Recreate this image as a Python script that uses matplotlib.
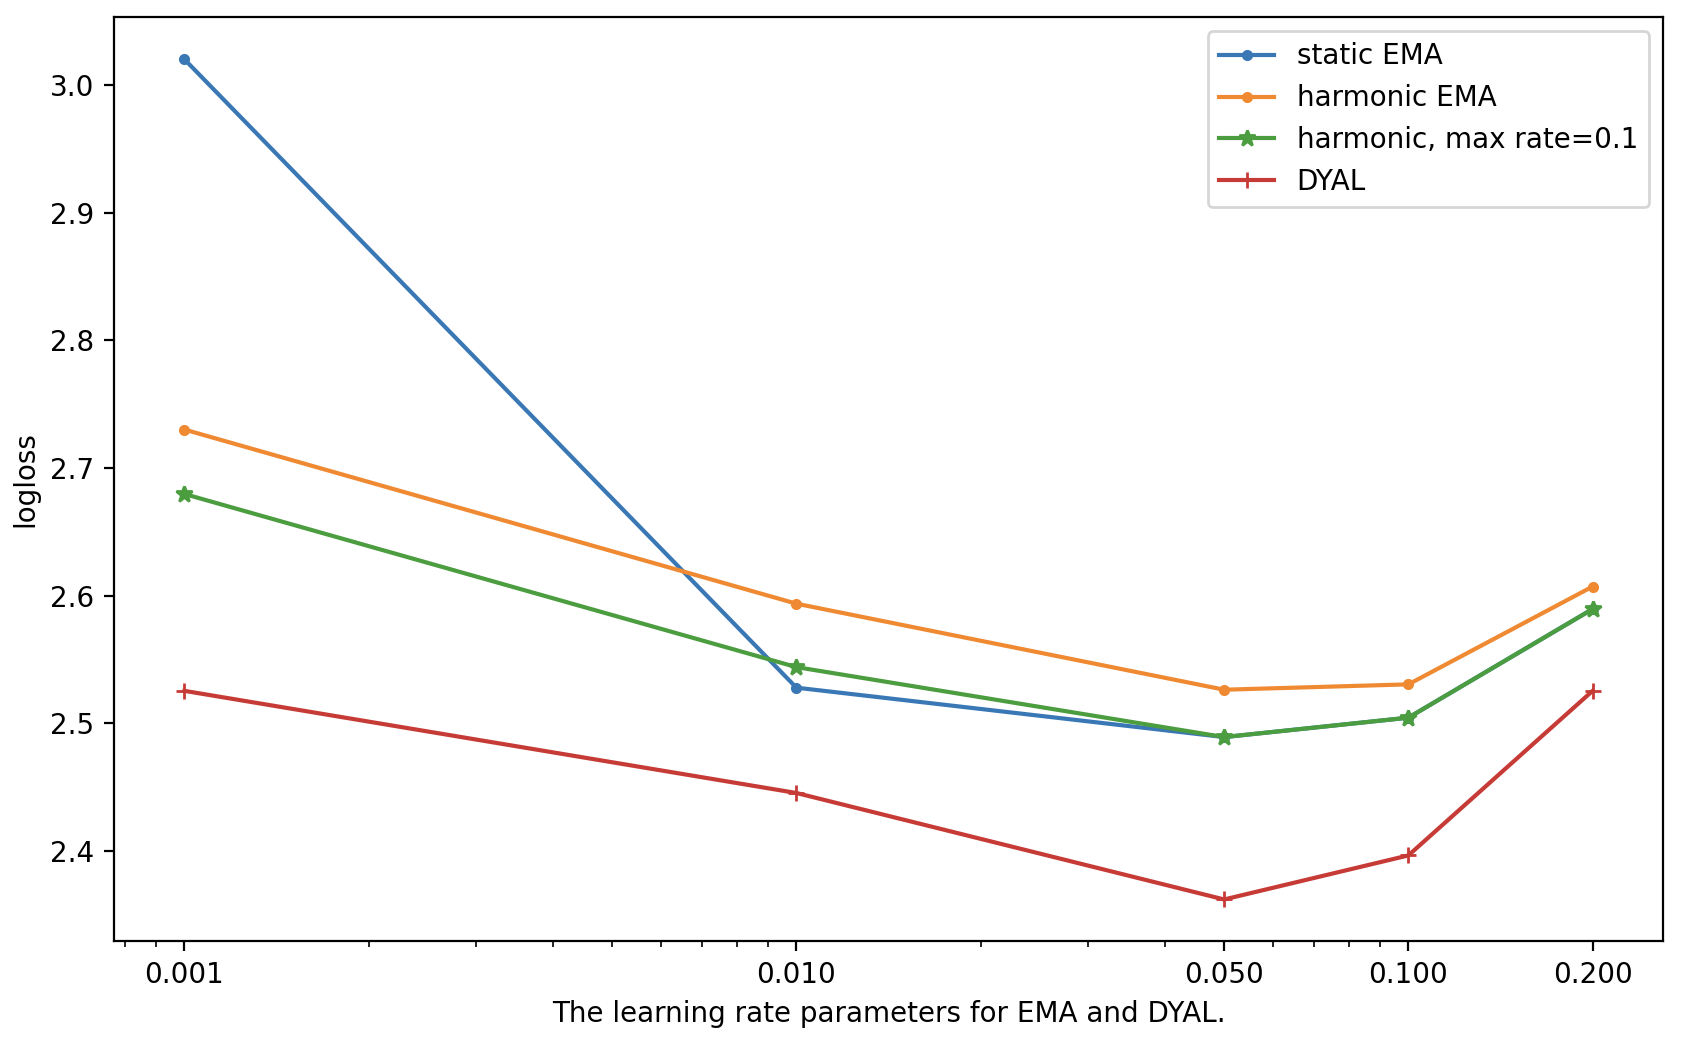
import matplotlib
matplotlib.use("Agg")
import matplotlib.pyplot as plt
from matplotlib.ticker import NullFormatter

learning_rates = [0.001, 0.01, 0.05, 0.1, 0.2]
tick_labels = ["0.001", "0.010", "0.050", "0.100", "0.200"]
static_ema = [3.0202, 2.528, 2.4893, 2.5045, 2.5896]
harmonic_ema = [2.7302, 2.5938, 2.5264, 2.5306, 2.6072]
harmonic_max = [2.6797, 2.5441, 2.4893, 2.5045, 2.5896]
dyal = [2.5255, 2.4455, 2.3621, 2.3966, 2.5255]
colors = ['#3a78b5', '#ef8a33', '#4b9d3f', '#c73b37']

fig = plt.figure(figsize=(8.41, 5.19), dpi=200)
ax = fig.add_axes([0.0678, 0.093, 0.9209, 0.8903])

ax.plot(learning_rates, static_ema, marker='.', color=colors[0], label='static EMA')
ax.plot(learning_rates, harmonic_ema, marker='.', color=colors[1], label='harmonic EMA')
ax.plot(learning_rates, harmonic_max, marker='*', color=colors[2], label='harmonic, max rate=0.1')
ax.plot(learning_rates, dyal, marker='+', color=colors[3], label='DYAL')

ax.set_xscale('log')
ax.set_xticks(learning_rates, tick_labels)
ax.xaxis.set_minor_formatter(NullFormatter())
ax.set_xlabel('The learning rate parameters for EMA and DYAL.')
ax.set_ylabel('logloss')
ax.legend(loc='upper right')

fig.savefig('out.png', dpi=200)
